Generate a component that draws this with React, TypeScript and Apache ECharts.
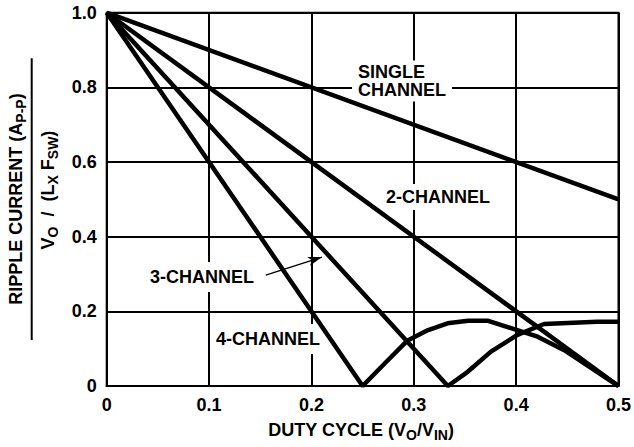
import React, { useEffect, useRef } from "react";
import * as echarts from "echarts";

// Duty cycle (x) vs normalized ripple current (y)
const singleChannel: number[][] = [
  [0, 1],
  [0.5, 0.5],
];
const twoChannel: number[][] = [
  [0, 1],
  [0.5, 0],
];
const threeChannel: number[][] = [
  [0, 1],
  [0.3333, 0],
  [0.3527, 0.038],
  [0.3754, 0.092],
  [0.4013, 0.137],
  [0.4272, 0.166],
  [0.479, 0.172],
  [0.5, 0.172],
];
const fourChannel: number[][] = [
  [0, 1],
  [0.25, 0],
  [0.2718, 0.061],
  [0.294, 0.122],
  [0.314, 0.15],
  [0.333, 0.168],
  [0.353, 0.175],
  [0.372, 0.175],
  [0.395, 0.155],
  [0.421, 0.132],
  [0.447, 0.096],
  [0.5, 0],
];

const xMin = 0;
const xMax = 0.5;
const xStep = 0.1;
const yMin = 0;
const yMax = 1.0;
const yStep = 0.2;

// annotation arrow pointing to the 3-channel curve (data coords)
const arrowTail = [0.1554, 0.297];
const arrowTip = [0.2103, 0.3453];

const FONT = "'Liberation Sans', Arial, Helvetica, sans-serif";

export default function App() {
  const ref = useRef<HTMLDivElement>(null);

  useEffect(() => {
    if (!ref.current) return;
    const chart = echarts.init(ref.current, null, { renderer: "svg" });

    const tickFmt = (v: number) => (v === 0 ? "0" : v.toFixed(1));
    const n = { fontSize: 18, fontWeight: "bold", fontFamily: FONT, fill: "#000", lineHeight: 24, verticalAlign: "middle" };
    const s = { fontSize: 14, fontWeight: "bold", fontFamily: FONT, fill: "#000", lineHeight: 12, verticalAlign: "bottom" };
    const labelStyle = (text: string, pad: number[]) => ({
      text,
      fontSize: 18,
      fontWeight: "bold",
      fontFamily: FONT,
      fill: "#000",
      backgroundColor: "#fff",
      padding: pad,
      align: "left",
      verticalAlign: "middle",
    });

    const lineSeries = (name: string, data: number[][], extra: any = {}) => ({
      name,
      type: "line",
      data,
      showSymbol: false,
      symbol: "none",
      z: 3,
      lineStyle: { color: "#000", width: 4.5 },
      silent: true,
      ...extra,
    });

    chart.setOption({
      animation: false,
      backgroundColor: "#fff",
      grid: {
        left: 106.7,
        right: 12.3,
        top: 12.7,
        bottom: 61,
        show: true,
        borderColor: "#000",
        borderWidth: 2,
        containLabel: false,
      },
      xAxis: {
        type: "value",
        min: xMin,
        max: xMax,
        interval: xStep,
        axisLine: { show: true, lineStyle: { color: "#000", width: 2 } },
        axisTick: { show: false },
        splitLine: { show: true, lineStyle: { color: "#000", width: 2 } },
        axisLabel: {
          color: "#000",
          fontFamily: FONT,
          fontWeight: "bold",
          fontSize: 18,
          margin: 10,
          formatter: tickFmt,
        },
      },
      yAxis: {
        type: "value",
        min: yMin,
        max: yMax,
        interval: yStep,
        axisLine: { show: true, lineStyle: { color: "#000", width: 2 } },
        axisTick: { show: false },
        splitLine: { show: true, lineStyle: { color: "#000", width: 2 } },
        axisLabel: {
          color: "#000",
          fontFamily: FONT,
          fontWeight: "bold",
          fontSize: 18,
          margin: 10,
          formatter: tickFmt,
        },
      },
      series: [
        lineSeries("SINGLE CHANNEL", singleChannel),
        lineSeries("2-CHANNEL", twoChannel),
        lineSeries("3-CHANNEL", threeChannel, {
          markLine: {
            silent: true,
            symbol: ["none", "arrow"],
            symbolSize: [7, 14],
            label: { show: false },
            lineStyle: { color: "#000", width: 1.5, type: "solid" },
            data: [[{ coord: arrowTail }, { coord: arrowTip }]],
          },
        }),
        lineSeries("4-CHANNEL", fourChannel),
      ],
      graphic: [
        {
          type: "text",
          z: 1,
          x: 352,
          y: 81,
          style: {
            ...labelStyle("SINGLE\nCHANNEL", [2, 6, 2, 6]),
            lineHeight: 18.5,
          },
        },
        { type: "text", z: 1, x: 382, y: 197, style: labelStyle("2-CHANNEL", [4, 4, 4, 4]) },
        { type: "text", z: 1, x: 145, y: 277, style: labelStyle("3-CHANNEL", [6, 5, 6, 5]) },
        { type: "text", z: 1, x: 211, y: 339, style: labelStyle("4-CHANNEL", [6, 5, 6, 5]) },
        // y axis title
        {
          type: "text",
          x: 15.5,
          y: 199,
          rotation: Math.PI / 2,
          style: {
            text: "{n|RIPPLE CURRENT (A}{s|P-P}{n|)}",
            rich: { n, s },
            align: "center",
            verticalAlign: "middle",
          },
        },
        {
          type: "line",
          shape: { x1: 31.7, y1: 58.3, x2: 31.7, y2: 340 },
          style: { stroke: "#000", lineWidth: 2 },
        },
        {
          type: "text",
          x: 47.5,
          y: 190,
          rotation: Math.PI / 2,
          style: {
            text: "{n|V}{s|O}{n|  /  (L}{s|X}{n| F}{s|SW}{n|)}",
            rich: { n, s },
            align: "center",
            verticalAlign: "middle",
          },
        },
        // x axis title
        {
          type: "text",
          x: 361,
          y: 430,
          style: {
            text: "{n|DUTY CYCLE (V}{s|O}{n|/V}{s|IN}{n|)}",
            rich: { n, s },
            align: "center",
            verticalAlign: "middle",
          },
        },
      ],
    });

    return () => chart.dispose();
  }, []);

  return (
    <div
      ref={ref}
      style={{ position: "absolute", left: 0, top: 0, width: 634, height: 447 }}
    />
  );
}
